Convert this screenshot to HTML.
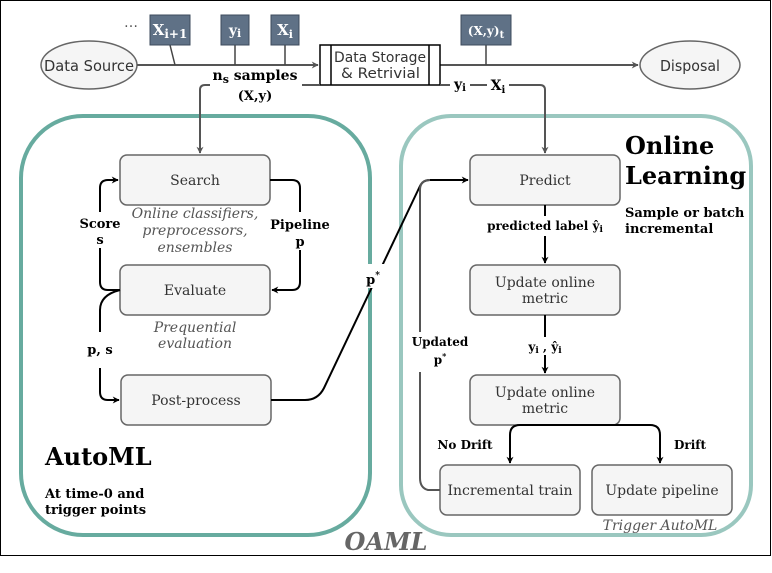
<!DOCTYPE html>
<html><head><meta charset="utf-8"><style>
html,body{margin:0;padding:0;background:#fff;}
svg{display:block;}
.s{font-family:"DejaVu Serif","Liberation Serif",serif;}
</style></head><body>
<svg width="772" height="573" viewBox="0 0 772 573" xmlns="http://www.w3.org/2000/svg">
<defs>
<marker id="ag" viewBox="0 0 10 10" refX="9" refY="5" markerWidth="7" markerHeight="7" orient="auto" markerUnits="userSpaceOnUse"><path d="M0,0 L10,5 L0,10 L3,5 z" fill="#555"/></marker>
<marker id="ak" viewBox="0 0 10 10" refX="9" refY="5" markerWidth="7" markerHeight="7" orient="auto" markerUnits="userSpaceOnUse"><path d="M0,0 L10,5 L0,10 L3,5 z" fill="#000"/></marker>
</defs>
<rect x="0.5" y="0.5" width="770" height="555" fill="#fff" stroke="#000" stroke-width="1"/>

<rect x="21" y="116" width="349" height="419" rx="62" fill="none" stroke="#67ab9f" stroke-width="4"/>
<rect x="401" y="116" width="350" height="419" rx="50" fill="none" stroke="#9ac7bf" stroke-width="4"/>

<ellipse cx="89" cy="65" rx="48" ry="24" fill="#f5f5f5" stroke="#666" stroke-width="1.5"/>
<text x="44" y="71" textLength="90" lengthAdjust="spacingAndGlyphs" font-family="DejaVu Sans, sans-serif" font-size="15" fill="#333">Data Source</text>
<ellipse cx="690" cy="65" rx="50" ry="24" fill="#f5f5f5" stroke="#666" stroke-width="1.5"/>
<text x="660" y="71" textLength="60" lengthAdjust="spacingAndGlyphs" font-family="DejaVu Sans, sans-serif" font-size="15" fill="#333">Disposal</text>
<line x1="137" y1="65" x2="318" y2="65" stroke="#555" stroke-width="2" marker-end="url(#ag)"/>
<line x1="440" y1="65" x2="638" y2="65" stroke="#555" stroke-width="2" marker-end="url(#ag)"/>
<line x1="170" y1="45" x2="175" y2="65" stroke="#444" stroke-width="1.5"/>
<line x1="235" y1="45" x2="235" y2="65" stroke="#444" stroke-width="1.5"/>
<line x1="285" y1="45" x2="285" y2="65" stroke="#444" stroke-width="1.5"/>
<line x1="486" y1="45" x2="486" y2="65" stroke="#444" stroke-width="1.5"/>
<text x="131" y="27" text-anchor="middle" font-family="DejaVu Sans,sans-serif" font-size="14" fill="#555">…</text>
<rect x="150" y="15" width="40" height="30" fill="#5f7186" stroke="#3d4b5c"/>
<text x="170" y="35" text-anchor="middle" class="s" font-size="15" font-weight="bold" fill="#fff">X<tspan font-size="12" dy="3">i+1</tspan></text>
<rect x="221" y="15" width="28" height="30" fill="#5f7186" stroke="#3d4b5c"/>
<text x="235" y="35" text-anchor="middle" class="s" font-size="14" font-weight="bold" fill="#fff">y<tspan font-size="11" dy="2">i</tspan></text>
<rect x="271" y="15" width="28" height="30" fill="#5f7186" stroke="#3d4b5c"/>
<text x="285" y="35" text-anchor="middle" class="s" font-size="15" font-weight="bold" fill="#fff">X<tspan font-size="11" dy="3">i</tspan></text>
<rect x="461" y="15" width="50" height="30" fill="#5f7186" stroke="#3d4b5c"/>
<text x="486" y="35" text-anchor="middle" class="s" font-size="12" font-weight="bold" fill="#fff">(X,y)<tspan font-size="10" dy="3">t</tspan></text>

<rect x="320" y="45" width="120" height="40" fill="#fff" stroke="#000" stroke-width="1.5"/>
<line x1="331" y1="45" x2="331" y2="85" stroke="#000" stroke-width="1.5"/>
<line x1="429" y1="45" x2="429" y2="85" stroke="#000" stroke-width="1.5"/>
<text x="334" y="62" textLength="92" lengthAdjust="spacingAndGlyphs" font-family="DejaVu Sans, sans-serif" font-size="14" fill="#333">Data Storage</text>
<text x="341" y="78" textLength="79" lengthAdjust="spacingAndGlyphs" font-family="DejaVu Sans, sans-serif" font-size="14" fill="#333">&amp; Retrivial</text>

<path d="M320,85 L205,85 Q200,85 200,90 L200,153" fill="none" stroke="#555" stroke-width="2" marker-end="url(#ag)"/>
<path d="M440,85 L540,85 Q545,85 545,90 L545,153" fill="none" stroke="#555" stroke-width="2" marker-end="url(#ag)"/>
<rect x="210" y="66" width="92" height="38" fill="#fff"/>
<text x="255" y="80" text-anchor="middle" class="s" font-size="14" font-weight="bold">n<tspan font-size="11" dy="3">s</tspan><tspan dy="-3"> samples</tspan></text>
<text x="255" y="100" text-anchor="middle" class="s" font-size="13" font-weight="bold">(X,y)</text>
<rect x="450" y="77" width="20" height="16" fill="#fff"/>
<text x="460" y="89" text-anchor="middle" class="s" font-size="14" font-weight="bold">y<tspan font-size="10" dy="2">i</tspan></text>
<rect x="487" y="77" width="22" height="18" fill="#fff"/>
<text x="498" y="90" text-anchor="middle" class="s" font-size="14" font-weight="bold">X<tspan font-size="10" dy="3">i</tspan></text>

<g fill="#f5f5f5" stroke="#666" stroke-width="1.5">
<rect x="120" y="155" width="150" height="50" rx="7"/>
<rect x="120" y="265" width="150" height="50" rx="7"/>
<rect x="121" y="375" width="150" height="50" rx="7"/>
<rect x="470" y="155" width="150" height="50" rx="7"/>
<rect x="470" y="265" width="150" height="50" rx="7"/>
<rect x="470" y="375" width="150" height="50" rx="7"/>
<rect x="440" y="465" width="140" height="50" rx="7"/>
<rect x="592" y="465" width="140" height="50" rx="7"/>
</g>
<g class="s" font-size="14" fill="#333" text-anchor="middle">
<text x="195" y="185">Search</text>
<text x="195" y="295">Evaluate</text>
<text x="196" y="405">Post-process</text>
<text x="545" y="185">Predict</text>
<text x="545" y="287">Update online</text>
<text x="545" y="303">metric</text>
<text x="545" y="397">Update online</text>
<text x="545" y="413">metric</text>
<text x="510" y="495">Incremental train</text>
<text x="662" y="495">Update pipeline</text>
</g>
<g class="s" font-size="14" fill="#555" text-anchor="middle" font-style="italic">
<text x="195" y="218">Online classifiers,</text>
<text x="195" y="235">preprocessors,</text>
<text x="195" y="252">ensembles</text>
<text x="195" y="332">Prequential</text>
<text x="195" y="348">evaluation</text>
<text x="660" y="530">Trigger AutoML</text>
</g>

<g fill="none" stroke="#000" stroke-width="2">
<path d="M120,290 L108,290 Q100,290 100,282 L100,188 Q100,180 108,180 L118,180" marker-end="url(#ak)"/>
<path d="M270,180 L292,180 Q300,180 300,188 L300,282 Q300,290 292,290 L272,290" marker-end="url(#ak)"/>
<path d="M120,290 Q100,295 100,310 L100,392 Q100,400 108,400 L119,400" marker-end="url(#ak)"/>
<path d="M271,400 L305,400 Q318,400 324,388 L420,186 Q423,180 430,180 L468,180" marker-end="url(#ak)"/>
</g>
<rect x="80" y="212" width="40" height="36" fill="#fff"/>
<rect x="272" y="212" width="58" height="38" fill="#fff"/>
<rect x="80" y="332" width="40" height="36" fill="#fff"/>
<rect x="362" y="264" width="22" height="24" fill="#fff"/>
<g class="s" font-size="13" font-weight="bold" text-anchor="middle">
<text x="100" y="228">Score</text><text x="100" y="244">s</text>
<text x="300" y="229">Pipeline</text><text x="300" y="246">p</text>
<text x="100" y="354">p, s</text>
<text x="373" y="284">p<tspan font-size="9" dy="-6">*</tspan></text>
</g>

<path d="M440,490 L428,490 Q420,488 420,478 L420,190 Q420,180 430,180" fill="none" stroke="#555" stroke-width="2"/>
<rect x="408" y="332" width="64" height="40" fill="#fff"/>
<g class="s" font-size="12" font-weight="bold" text-anchor="middle">
<text x="440" y="346">Updated</text>
<text x="440" y="364">p<tspan font-size="8" dy="-5">*</tspan></text>
</g>
<g fill="none" stroke="#000" stroke-width="2">
<line x1="545" y1="205" x2="545" y2="263" marker-end="url(#ak)"/>
<line x1="545" y1="315" x2="545" y2="373" marker-end="url(#ak)"/>
<path d="M545,425 L520,425 Q510,425 510,435 L510,463" marker-end="url(#ak)"/>
<path d="M545,425 L650,425 Q660,425 660,435 L660,463" marker-end="url(#ak)"/>
</g>
<rect x="480" y="216" width="130" height="20" fill="#fff"/>
<rect x="524" y="337" width="42" height="18" fill="#fff"/>
<g class="s" font-size="12" font-weight="bold" text-anchor="middle">
<text x="545" y="230">predicted label ŷ<tspan font-size="9" dy="2">i</tspan></text>
<text x="545" y="351">y<tspan font-size="9" dy="2">i</tspan><tspan dy="-2"> , ŷ</tspan><tspan font-size="9" dy="2">i</tspan></text>
<text x="465" y="449">No Drift</text>
<text x="690" y="449">Drift</text>
</g>

<g class="s" font-weight="bold">
<text x="45" y="465" font-size="24">AutoML</text>
<text x="45" y="498" font-size="13">At time-0 and</text>
<text x="45" y="514" font-size="13">trigger points</text>
<text x="625" y="154" font-size="24">Online</text>
<text x="625" y="184" font-size="24">Learning</text>
<text x="625" y="217" font-size="13">Sample or batch</text>
<text x="625" y="233" font-size="13">incremental</text>
<text x="386" y="550" font-size="24" font-style="italic" fill="#666" text-anchor="middle">OAML</text>
</g>
</svg>
</body></html>
